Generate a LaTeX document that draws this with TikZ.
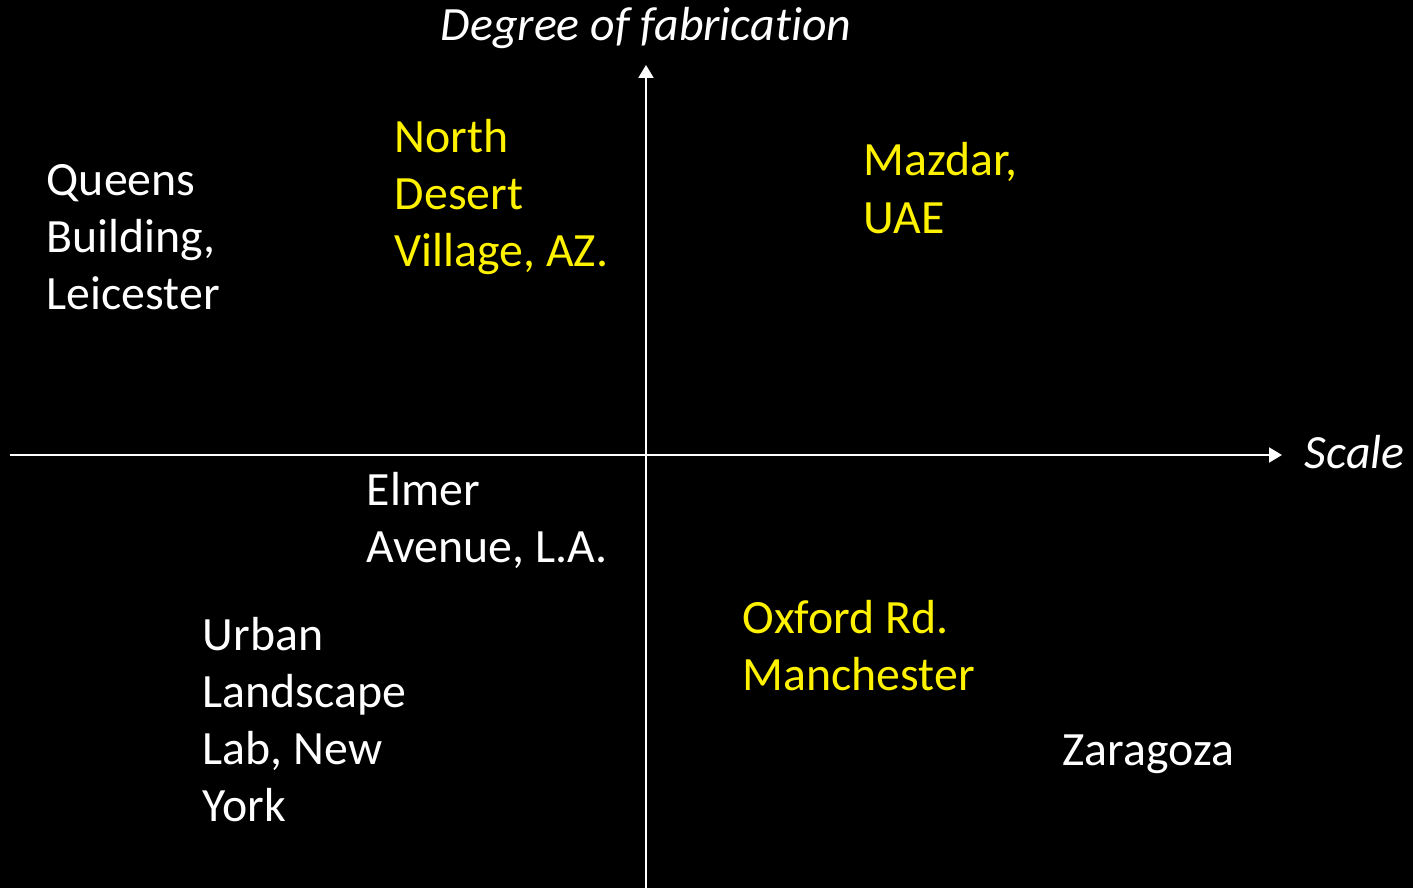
\documentclass[tikz,border=0pt]{standalone}
\usepackage{fontspec}
\setmainfont{Carlito}[Ligatures=NoCommon]
\usetikzlibrary{arrows.meta}
\begin{document}
\begin{tikzpicture}[x=0.5pt, y=-0.5pt, thick, white,
    axis/.style = {draw=white, line width=1pt, -{Triangle[length=6.5pt,width=7.5pt]}},
    place/.style = {anchor=base west, inner sep=0pt, align=left, text=white, font=\fontsize{23.9}{28.5}\selectfont},
    hot/.style = {place, text=yellow},
    axlabel/.style = {inner sep=0pt, text=white, font=\fontsize{23.9}{28.5}\selectfont\itshape}]
    \fill[black] (0,0) rectangle (1413,888);
    \useasboundingbox (0,0) rectangle (1413,888);
    \coordinate (xl) at (10,455);
    \coordinate (xr) at (1282,455);
    \coordinate (yb) at (646,888);
    \coordinate (yt) at (646,65);
    \draw[axis] (xl) -- (xr);
    \draw[axis] (yb) -- (yt);
    \node[axlabel, anchor=base] (deg) at (646,41) {Degree of fabrication};
    \node[axlabel, anchor=base west] (scale) at (1304,468) {Scale};
    % base anchor sits on the last line
    \node[place] (queens) at (46,309) {Queens\\Building,\\Leicester};
    \node[hot] (north) at (394,266) {North\\Desert\\Village, AZ.};
    \node[hot] (mazdar) at (863,233) {Mazdar,\\UAE};
    \node[place] (elmer) at (366,562) {Elmer\\Avenue, L.A.};
    \node[place] (urban) at (202,821) {Urban\\Landscape\\Lab, New\\York};
    \node[hot] (oxford) at (742,690) {Oxford Rd.\\Manchester};
    \node[place] (zaragoza) at (1062,765) {Zaragoza};
  \end{tikzpicture}
\end{document}
